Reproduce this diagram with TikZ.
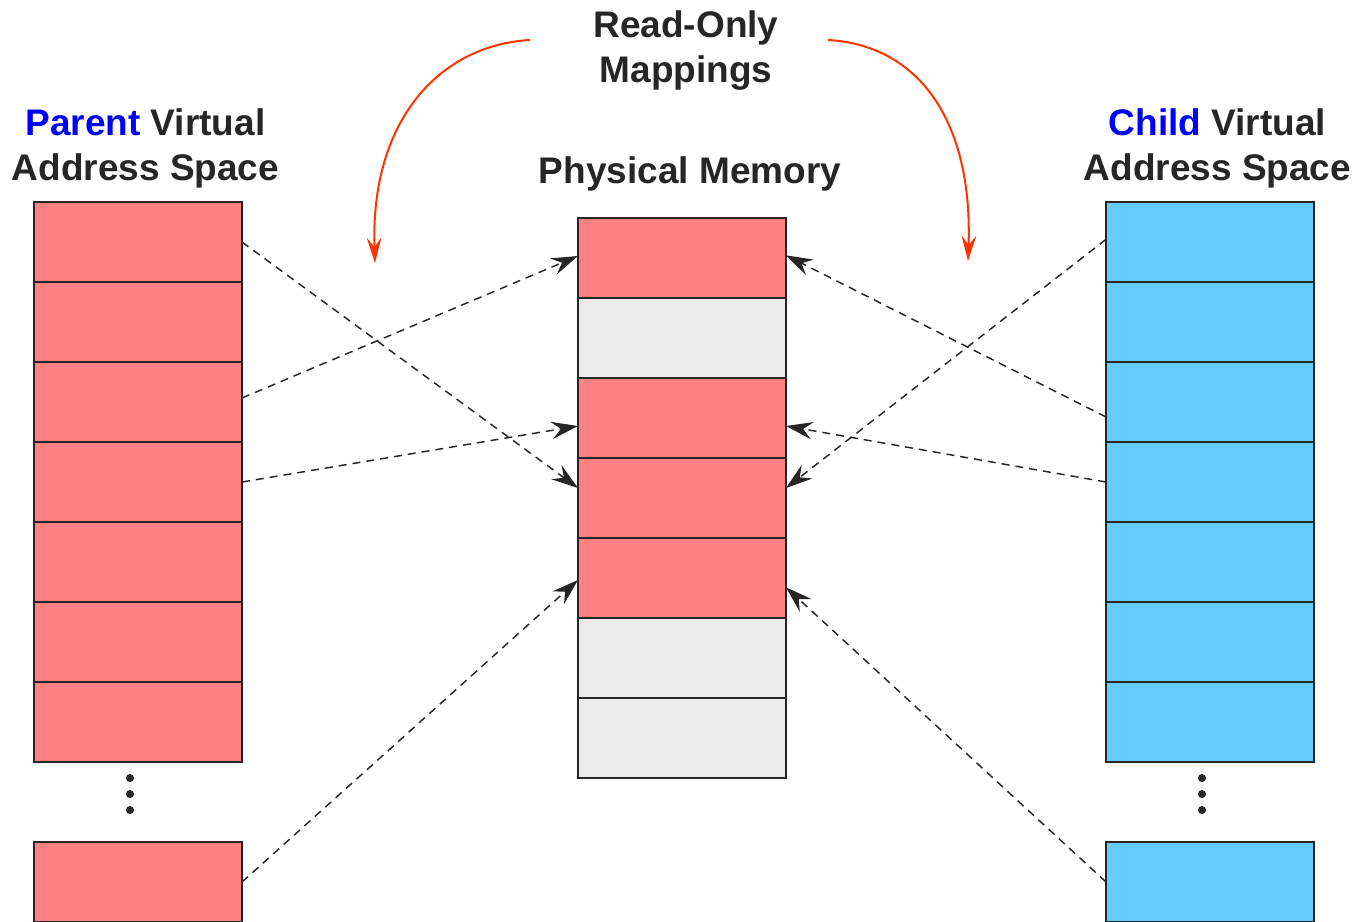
\documentclass[tikz,border=0pt]{standalone}
\usepackage{fontspec}
\setmainfont{Liberation Sans}
\usepackage{xcolor}
\usetikzlibrary{arrows.meta,positioning}

\definecolor{pagered}{HTML}{FF8080}
\definecolor{pageblue}{HTML}{66CCFF}
\definecolor{pagegray}{HTML}{EBEBEB}
\definecolor{ink}{HTML}{262626}
\definecolor{rocolor}{HTML}{FF3300}
\definecolor{procblue}{HTML}{0000FF}

\begin{document}
\begin{tikzpicture}[x=0.75pt,y=-0.75pt,node distance=60pt,
    font=\fontsize{27.75}{33.75}\selectfont\bfseries]
    \tikzset{page/.style={draw=ink, line width=1.5pt, minimum width=156pt, minimum height=60pt, inner sep=0pt, outer sep=0pt},
        title/.style={text=ink, align=center, anchor=base, inner sep=0pt},
        map/.style={-{Stealth[length=20pt,width=13pt,inset=7pt]}, draw=ink, line width=1.1pt, dash pattern=on 6pt off 4.5pt},
        ro arrow/.style={-{Stealth[length=19pt,width=11pt,inset=7pt]}, draw=rocolor, line width=1.5pt}}

    \useasboundingbox (0,0) rectangle (1358,921);
    \clip (0,0) rectangle (1358,921);

    % parent pages
    \node[page, fill=pagered] (p1) at (138,242) {};
    \foreach \j [remember=\j as \i (initially 1)] in {2,...,7}
        \node[page, fill=pagered, below of=p\i] (p\j) {};
    \node[page, fill=pagered] (pb) at (138,882) {};

    % physical frames
    \node[page, fill=pagered] (m1) at (682,258) {};
    \foreach \c [count=\j from 2, remember=\j as \i (initially 1)] in {pagegray,pagered,pagered,pagered,pagegray,pagegray}
        \node[page, fill=\c, below of=m\i] (m\j) {};

    % child pages
    \node[page, fill=pageblue] (c1) at (1210,242) {};
    \foreach \j [remember=\j as \i (initially 1)] in {2,...,7}
        \node[page, fill=pageblue, below of=c\i] (c\j) {};
    \node[page, fill=pageblue] (cb) at (1210,882) {};

    \foreach \y in {778,794,810} {
        \fill[ink] (130,\y) circle (3pt);
        \fill[ink] (1202,\y) circle (3pt);
    }

    % base anchor sits on the last line
    \node[title] (rolabel) at (686,82) {Read-Only\\Mappings};
    \node[title] (plabel) at (145.5,180) {\textcolor{procblue}{Parent} Virtual\\Address Space};
    \node[title] (mlabel) at (690,183) {Physical Memory};
    \node[title] (clabel) at (1217.5,180) {\textcolor{procblue}{Child} Virtual\\Address Space};

    \draw[map] (p1.east) -- ([yshift=7.5pt]m4.west);
    \draw[map] ([yshift=3pt]p3.east) -- ([yshift=1.5pt]m1.west);
    \draw[map] (p4.east) -- ([yshift=-6pt]m3.west);
    \draw[map] (pb.east) -- ([yshift=-1.5pt]m5.west);
    \draw[map] ([yshift=2pt]c1.west) -- ([yshift=7.5pt]m4.east);
    \draw[map] ([yshift=-11.25pt]c3.west) -- ([yshift=2pt]m1.east);
    \draw[map] (c4.west) -- ([yshift=-6pt]m3.east);
    \draw[map] (cb.west) -- ([yshift=-7pt]m5.east);

    \coordinate (roleft) at (530,40);
    \coordinate (tipleft) at (375,263);
    \coordinate (roright) at (828,40);
    \coordinate (tipright) at (968,261);
    \draw[ro arrow] (roleft) .. controls (440,45) and (370,120) .. (tipleft);
    \draw[ro arrow] (roright) .. controls (918,45) and (973,120) .. (tipright);
\end{tikzpicture}
\end{document}
